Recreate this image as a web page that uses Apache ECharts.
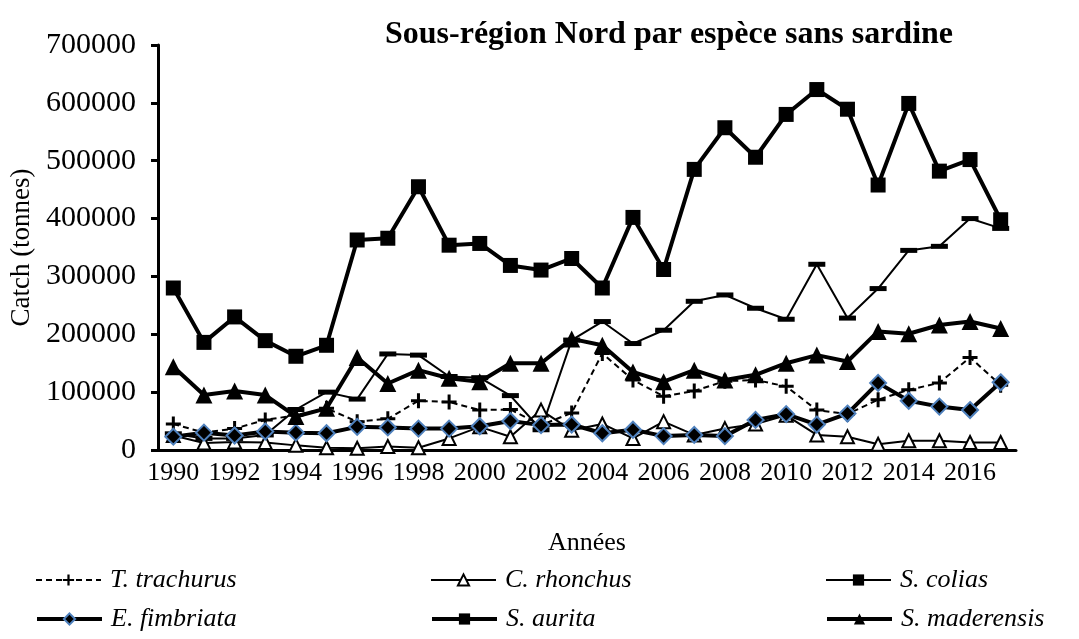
<!DOCTYPE html>
<html>
<head>
<meta charset="utf-8">
<title>Sous-région Nord par espèce sans sardine</title>
<script src="https://cdn.jsdelivr.net/npm/echarts@6/dist/echarts.min.js"></script>
<style>
    html, body {margin: 0; padding: 0; background: #fff;}
    #chart {width: 1079px; height: 639px;}
</style>
</head>
<body>
<div id="chart"></div>
<script>
// annees
var years = ["1990","1991","1992","1993","1994","1995","1996","1997","1998","1999",
    "2000","2001","2002","2003","2004","2005","2006","2007","2008","2009",
    "2010","2011","2012","2013","2014","2015","2016","2017"];

// captures (tonnes)
var trachurus = [45000, 30000, 37000, 52000, 60000, 72000, 49000, 54000, 85000, 83000,
    69000, 70000, 43000, 64000, 167000, 121000, 93000, 102000, 119000, 121000,
    110000, 69000, 62000, 87000, 104000, 116000, 160000, 112000];
var rhonchus = [25000, 12000, 14000, 13000, 8000, 4000, 3000, 6000, 4000, 20000,
    40000, 23000, 69000, 34000, 45000, 20000, 49000, 26000, 37000, 45000,
    60000, 26000, 23000, 10000, 16000, 16000, 13000, 13000];
var colias = [28000, 20000, 20000, 26000, 70000, 100000, 88000, 166000, 164000, 127000,
    125000, 94000, 35000, 190000, 222000, 184000, 207000, 257000, 268000, 245000,
    226000, 321000, 228000, 279000, 345000, 352000, 400000, 383000];
var fimbriata = [23000, 30000, 25000, 32000, 30000, 29000, 40000, 39000, 37000, 37000,
    41000, 50000, 43000, 44000, 29000, 35000, 24000, 26000, 24000, 52000,
    62000, 44000, 63000, 116000, 85000, 75000, 69000, 117000];
var aurita = [280000, 186000, 230000, 189000, 162000, 181000, 363000, 366000, 455000, 354000,
    357000, 319000, 311000, 331000, 280000, 402000, 312000, 485000, 557000, 506000,
    580000, 623000, 589000, 458000, 599000, 482000, 502000, 398000];
var maderensis = [144000, 95000, 102000, 95000, 58000, 72000, 160000, 115000, 138000, 124000,
    118000, 150000, 150000, 192000, 181000, 135000, 118000, 138000, 121000, 130000,
    150000, 164000, 153000, 205000, 201000, 216000, 222000, 210000];

var font = "'Liberation Serif', 'Times New Roman', serif";
var plus = 'path://M4,0h2v4h4v2h-4v4h-2v-4h-4v-2h4z';

// une legende par espece, placee a la main (3 colonnes x 2 lignes)
function legendItem(name, x, y, lw) {
    return {
        left: x, top: y,
        itemWidth: 65, itemHeight: 14,
        data: [name],
        lineStyle: {width: lw},
        textStyle: {fontFamily: font, fontSize: 26, fontStyle: 'italic', color: '#000', padding: [0, 0, 0, 4]}
    };
}

var chart = echarts.init(document.getElementById('chart'));
var option = {
    animation: false,
    backgroundColor: '#fff',
    title: {
        text: 'Sous-région Nord par espèce sans sardine',
        left: 380, top: 14,
        textStyle: {fontFamily: font, fontSize: 32, fontWeight: 'bold', color: '#000'}
    },
    legend: [
        legendItem('T. trachurus', 30, 562, 2),
        legendItem('C. rhonchus', 425, 562, 2),
        legendItem('S. colias', 820, 562, 2),
        legendItem('E. fimbriata', 30, 601, 4),
        legendItem('S. aurita', 425, 601, 4),
        legendItem('S. maderensis', 820, 601, 4)
    ],
    grid: {left: 157, right: 63, top: 45, bottom: 189},
    xAxis: {
        type: 'category',
        data: years,
        name: 'Années', nameLocation: 'middle', nameGap: 80,
        nameTextStyle: {fontFamily: font, fontSize: 26, color: '#000'},
        axisLine: {lineStyle: {color: '#000', width: 3}},
        axisTick: {interval: 0, length: 7, lineStyle: {color: '#000', width: 3}},
        axisLabel: {interval: 1, margin: 10, fontFamily: font, fontSize: 26, color: '#000'}
    },
    yAxis: {
        type: 'value', min: 0, max: 700000, interval: 100000,
        name: 'Catch (tonnes)', nameLocation: 'middle', nameGap: 123, nameRotate: 90,
        nameTextStyle: {fontFamily: font, fontSize: 27, color: '#000'},
        splitLine: {show: false},
        axisLine: {show: true, lineStyle: {color: '#000', width: 3}},
        axisTick: {show: true, length: 7, lineStyle: {color: '#000', width: 3}},
        axisLabel: {
            margin: 22, fontFamily: font, fontSize: 30, color: '#000',
            formatter: function (v) { return String(v); }
        }
    },
    series: [
        {
            name: 'T. trachurus', type: 'line', data: trachurus,
            symbol: plus, symbolSize: 15,
            lineStyle: {color: '#000', width: 2, type: [6, 4]},
            itemStyle: {color: '#000'}
        },
        {
            name: 'C. rhonchus', type: 'line', data: rhonchus,
            symbol: 'triangle', symbolSize: 13,
            lineStyle: {color: '#000', width: 2},
            itemStyle: {color: '#fff', borderColor: '#000', borderWidth: 2}
        },
        {
            name: 'S. colias', type: 'line', data: colias,
            symbol: 'rect', symbolSize: [17, 5],
            lineStyle: {color: '#000', width: 2},
            itemStyle: {color: '#000'}
        },
        {
            name: 'E. fimbriata', type: 'line', data: fimbriata,
            symbol: 'diamond', symbolSize: 16,
            lineStyle: {color: '#000', width: 4},
            itemStyle: {color: '#000', borderColor: '#4f81bd', borderWidth: 2}
        },
        {
            name: 'S. aurita', type: 'line', data: aurita,
            symbol: 'rect', symbolSize: 15,
            lineStyle: {color: '#000', width: 4},
            itemStyle: {color: '#000'}
        },
        {
            name: 'S. maderensis', type: 'line', data: maderensis,
            symbol: 'triangle', symbolSize: 17,
            lineStyle: {color: '#000', width: 4},
            itemStyle: {color: '#000'}
        }
    ]
};
chart.setOption(option);
</script>
</body>
</html>
